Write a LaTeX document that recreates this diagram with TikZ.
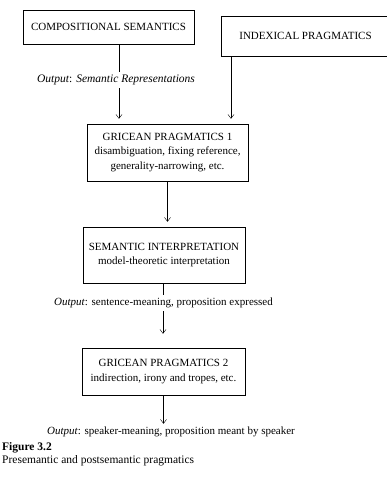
\documentclass[tikz,border=0pt]{standalone}
\usepackage{fontspec}
\setmainfont{Liberation Serif}
\usetikzlibrary{arrows.meta}

\newcommand{\hd}[1]{{\fontsize{11}{14.5}\selectfont #1}}

\tikzset{
  bx/.style={draw, thin, align=center, inner sep=0pt, font=\fontsize{11}{14.5}\selectfont},
  outlbl/.style={inner sep=3pt, font=\fontsize{11}{14}\selectfont},
}

\begin{document}
\begin{tikzpicture}[x=1pt,y=-1pt,>={Straight Barb[length=4pt,width=6pt]}]
\useasboundingbox[fill=white] (0,0) rectangle (386,486);

% the five boxes
\node[bx, minimum width=171pt, minimum height=34pt] (comp) at (108.5,27) {\hd{COMPOSITIONAL SEMANTICS}};
\node[bx, minimum width=169pt, minimum height=40pt] (index) at (305.5,36) {\hd{INDEXICAL PRAGMATICS}};
\node[bx, minimum width=161pt, minimum height=57pt] (gp1) at (167.5,152.5)
  {\hd{GRICEAN PRAGMATICS 1}\\disambiguation, fixing reference,\\generality-narrowing, etc.};
\node[bx, minimum width=162pt, minimum height=56pt] (semint) at (164,255)
  {\hd{SEMANTIC INTERPRETATION}\\model-theoretic interpretation};
\node[bx, minimum width=163pt, minimum height=47pt] (gp2) at (163.5,371.5)
  {\hd{GRICEAN PRAGMATICS 2}\\indirection, irony and tropes, etc.};

% output labels
\node[outlbl, font=\fontsize{11.5}{14}\selectfont] (out1) at (116,80) {\textit{Output}: \textit{Semantic Representations}};
\node[outlbl] (out2) at (163.5,303) {\textit{Output}: sentence-meaning, proposition expressed};
\node[outlbl] (out3) at (171,432) {\textit{Output}: speaker-meaning, proposition meant by speaker};

% arrow columns
\coordinate (a1) at (119,0);
\coordinate (a0) at (231,0);
\coordinate (a2) at (163,0);

\draw (comp.south -| a1) -- (out1.north -| a1);
\draw[->, shorten >=5pt] (out1.south -| a1) -- (gp1.north -| a1);
\draw[->, shorten >=5pt] (index.south -| a0) -- (gp1.north -| a0);
\draw[->, shorten >=5pt] (gp1.south) -- (gp1.south |- semint.north);
\draw (semint.south -| a2) -- (out2.north -| a2);
\draw[->, shorten >=14pt] (out2.south -| a2) -- (gp2.north -| a2);
\draw[->] (gp2.south) -- (gp2.south |- out3.north);

% caption
\node[anchor=west, inner sep=0pt, font=\fontsize{11.5}{14}\selectfont\bfseries] (fig) at (2,448) {Figure 3.2};
\node[anchor=west, inner sep=0pt, font=\fontsize{11.5}{14}\selectfont] (cap) at (2,461) {Presemantic and postsemantic pragmatics};
\end{tikzpicture}
\end{document}
